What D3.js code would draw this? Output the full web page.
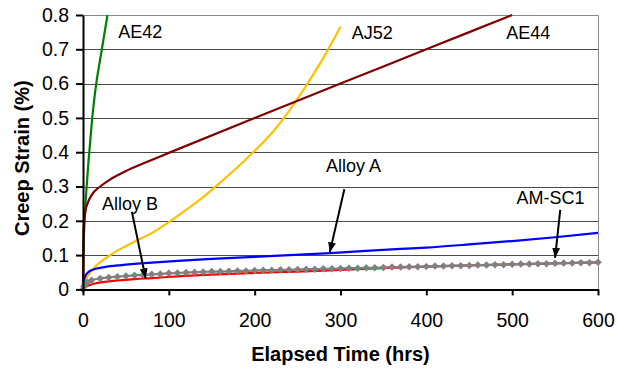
<!DOCTYPE html>
<html>
<head>
<meta charset="utf-8">
<script src="https://cdn.jsdelivr.net/npm/d3@7"></script>
<style>
  body { margin: 0; background: #fff; }
  svg { display: block; font-family: "Liberation Sans", Arial, sans-serif; }
</style>
</head>
<body>
<svg id="chart"></svg>
<script>
// creep curves, time in hrs, strain in %
const ae42 = [[0, 0], [1, 0.15], [2, 0.21], [4, 0.29], [6, 0.36], [9, 0.45], [12, 0.53], [16, 0.61], [22, 0.7], [28.5, 0.8]];
const aj52 = [[0, 0.015], [3, 0.03], [8, 0.047], [15, 0.068], [25, 0.088], [40, 0.113], [60, 0.139], [80, 0.164], [100, 0.196],
    [120, 0.232], [140, 0.269], [160, 0.312], [180, 0.356], [200, 0.404], [220, 0.456], [240, 0.52], [260, 0.594], [280, 0.675], [300, 0.766]];
const ae44 = [[0, 0], [0.3, 0.1], [0.7, 0.17], [1.5, 0.2], [3, 0.23], [6, 0.255], [10, 0.275], [20, 0.3], [30, 0.318], [50, 0.345],
    [75, 0.372], [100, 0.398], [200, 0.5], [300, 0.6], [400, 0.7], [500, 0.8]];
const alloyA = [[0, 0.005], [1, 0.025], [3, 0.04], [6, 0.05], [12, 0.058], [25, 0.065], [45, 0.071], [80, 0.078], [115, 0.084],
    [150, 0.089], [200, 0.095], [288, 0.106], [370, 0.118], [400, 0.122], [450, 0.131], [500, 0.141], [550, 0.152], [600, 0.165]];
const alloyB = [[0, 0], [2, 0.006], [5, 0.01], [8, 0.013], [15, 0.018], [25, 0.022], [40, 0.026], [60, 0.03], [80, 0.033], [110, 0.038],
    [150, 0.043], [200, 0.048], [250, 0.052], [300, 0.057], [380, 0.065], [450, 0.07], [500, 0.073], [550, 0.076], [600, 0.079]];
const amsc1 = [[0, 0], [1, 0.008], [2, 0.013], [3, 0.017], [5, 0.021],
    [10, 0.027], [20, 0.032], [30, 0.035], [40, 0.037], [50, 0.039], [60, 0.041], [70, 0.042], [80, 0.044], [90, 0.045], [100, 0.047],
    [110, 0.048], [120, 0.049], [130, 0.05], [140, 0.051], [150, 0.052], [160, 0.052], [170, 0.053], [180, 0.054], [190, 0.054], [200, 0.055],
    [210, 0.056], [220, 0.056], [230, 0.057], [240, 0.057], [250, 0.058], [260, 0.059], [270, 0.059], [280, 0.06], [290, 0.06], [300, 0.061],
    [310, 0.062], [320, 0.062], [330, 0.063], [340, 0.063], [350, 0.064], [360, 0.065], [370, 0.065], [380, 0.066], [390, 0.066], [400, 0.067],
    [410, 0.068], [420, 0.068], [430, 0.069], [440, 0.069], [450, 0.07], [460, 0.071], [470, 0.071], [480, 0.072], [490, 0.072], [500, 0.073],
    [510, 0.074], [520, 0.074], [530, 0.075], [540, 0.075], [550, 0.076], [560, 0.077], [570, 0.077], [580, 0.078], [590, 0.078], [600, 0.079]];

const xTicks = [0, 100, 200, 300, 400, 500, 600];
const yTicks = [0, 0.1, 0.2, 0.3, 0.4, 0.5, 0.6, 0.7, 0.8];

// text labels [name, t, strain]
const labels = [["AE42", 41, 0.732], ["AJ52", 313, 0.73], ["AE44", 493, 0.73],
    ["Alloy A", 283, 0.342], ["Alloy B", 22, 0.231], ["AM-SC1", 505, 0.248]];
// arrows [t0, s0, t1, s1]
const arrows = [[304.5, 0.292, 287.5, 0.108], [57, 0.226, 73, 0.032], [556, 0.232, 550, 0.092]];

const width = 618;
const height = 369;
const margin = {top: 15, right: 20, bottom: 80, left: 83};

const svg = d3.select("#chart")
    .attr("width", width)
    .attr("height", height);

const x = d3.scaleLinear().domain([0, 600]).range([margin.left, width - margin.right]);
const y = d3.scaleLinear().domain([0, 0.8]).range([height - margin.bottom + 0.4, margin.top]);

// gridlines
svg.append("g")
    .selectAll("line")
    .data(yTicks.filter(d => d > 0 && d < 0.8))
    .join("line")
    .attr("x1", x(0)).attr("x2", x(600))
    .attr("y1", d => Math.round(y(d)) + 0.5).attr("y2", d => Math.round(y(d)) + 0.5)
    .attr("stroke", "#4a4a4a")
    .attr("stroke-width", 1);

// plot area border (top / right)
svg.append("path")
    .attr("d", `M${x(0)},${y(0.8) + 0.5}H${x(600) + 0.5}V${y(0)}`)
    .attr("fill", "none")
    .attr("stroke", "#888")
    .attr("stroke-width", 1);

const line = d3.line().x(d => x(d[0])).y(d => y(d[1])).curve(d3.curveMonotoneX);
const lineY = d3.line().x(d => x(d[0])).y(d => y(d[1])).curve(d3.curveMonotoneY);

const series = [
    [ae42, "#008000"],
    [aj52, "#FFC000"],
    [ae44, "#800000"],
    [alloyA, "#0000FF"],
    [alloyB, "#FF0000"],
    [amsc1, "#808080"],
];

svg.append("g")
    .selectAll("path")
    .data(series)
    .join("path")
    .attr("d", d => d[0] === ae42 ? lineY(d[0]) : line(d[0]))
    .attr("fill", "none")
    .attr("stroke", d => d[1])
    .attr("stroke-width", 2.2);

// AM-SC1 diamond markers
svg.append("g")
    .selectAll("path")
    .data(amsc1)
    .join("path")
    .attr("d", d3.symbol(d3.symbolSquare, 28))
    .attr("transform", d => `translate(${x(d[0])},${y(d[1])}) rotate(45)`)
    .attr("fill", "#808080");

// axes
const yAxis = svg.append("g")
    .attr("transform", `translate(${x(0)},0)`)
    .call(d3.axisLeft(y).tickValues(yTicks).tickSize(7).tickSizeOuter(0).tickPadding(7)
        .tickFormat(d => d === 0 ? "0" : d3.format(".1f")(d)));

const xAxis = svg.append("g")
    .attr("transform", `translate(0,${y(0)})`)
    .call(d3.axisBottom(x).tickValues(xTicks).tickSize(6).tickSizeOuter(0).tickPadding(18));

[yAxis, xAxis].forEach(a => {
    a.select(".domain").attr("stroke", "#000").attr("stroke-width", 2);
    a.selectAll(".tick line").attr("stroke", "#000").attr("stroke-width", 2);
    a.selectAll(".tick text").attr("fill", "#000").style("font-size", "19.5px")
        .style("font-family", '"Liberation Sans", Arial, sans-serif');
});

// annotations
svg.append("defs").append("marker")
    .attr("id", "head")
    .attr("markerUnits", "userSpaceOnUse")
    .attr("viewBox", "0 0 10 8")
    .attr("refX", 10).attr("refY", 4)
    .attr("markerWidth", 10).attr("markerHeight", 8)
    .attr("orient", "auto")
    .append("path")
    .attr("d", "M0,0L10,4L0,8Z")
    .attr("fill", "#000");

svg.append("g")
    .selectAll("line")
    .data(arrows)
    .join("line")
    .attr("x1", d => x(d[0])).attr("y1", d => y(d[1]))
    .attr("x2", d => x(d[2])).attr("y2", d => y(d[3]))
    .attr("stroke", "#000")
    .attr("stroke-width", 2)
    .attr("marker-end", "url(#head)");

svg.append("g")
    .selectAll("text")
    .data(labels)
    .join("text")
    .attr("x", d => x(d[1]))
    .attr("y", d => y(d[2]))
    .attr("fill", "#000")
    .style("font-size", "18px")
    .text(d => d[0]);

// axis titles
svg.append("text")
    .attr("x", (x(0) + x(600)) / 2)
    .attr("y", 361)
    .attr("text-anchor", "middle")
    .style("font-size", "20px")
    .style("font-weight", "bold")
    .text("Elapsed Time (hrs)");

svg.append("text")
    .attr("transform", `translate(29,${(y(0) + y(0.8)) / 2 + 6}) rotate(-90)`)
    .attr("text-anchor", "middle")
    .style("font-size", "20px")
    .style("font-weight", "bold")
    .text("Creep Strain (%)");
</script>
</body>
</html>
